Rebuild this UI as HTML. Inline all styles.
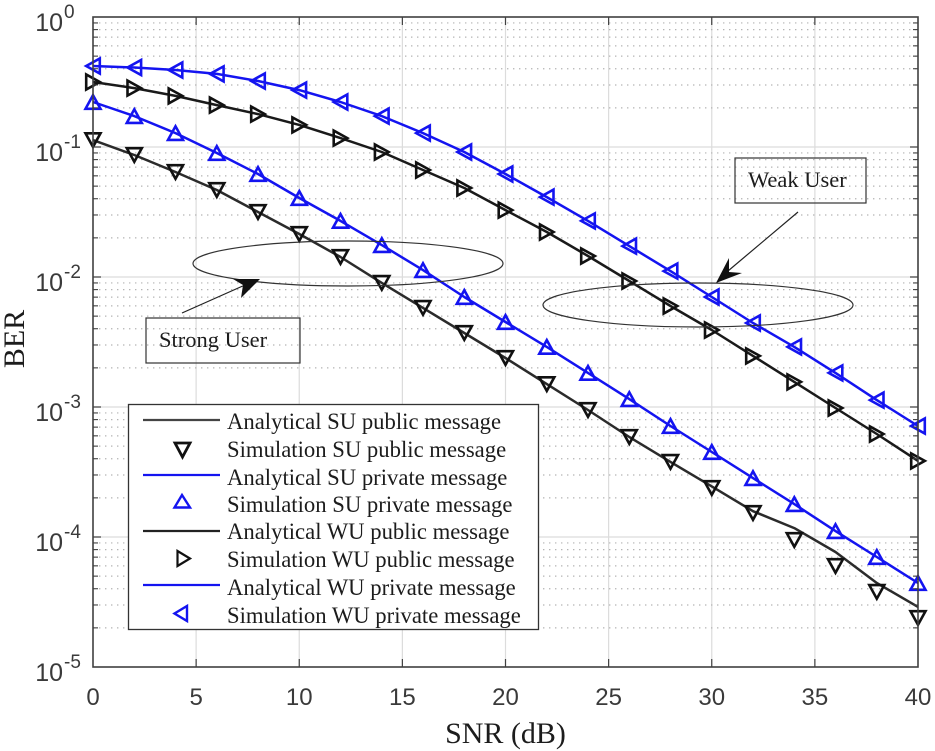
<!DOCTYPE html>
<html lang="en">
<head>
<meta charset="utf-8">
<title>BER vs SNR</title>
<style>
html,body{margin:0;padding:0;background:#fff;width:935px;height:751px;overflow:hidden}
svg{display:block;filter:blur(0.35px)}
.tick{font-family:"Liberation Sans",sans-serif;fill:#3a3a3a}
.serif{font-family:"Liberation Serif",serif;fill:#1c1c1c}
</style>
</head>
<body>
<svg id="chart" width="935" height="751" viewBox="0 0 935 751" xmlns="http://www.w3.org/2000/svg">
  <rect x="0" y="0" width="935" height="751" fill="#fff"/>
  <g id="grid"></g>
  <g id="series"></g>
  <g id="axes"></g>

  <g>
    <ellipse cx="348" cy="263.5" rx="155" ry="22.5" fill="none" stroke="#333" stroke-width="1.2"/>
    <line x1="182" y1="313" x2="245" y2="285" stroke="#222" stroke-width="1.2"/>
    <polygon points="260,279 233,279 243,285 241,298" fill="#111"/>
    <rect x="146" y="318" width="154" height="45" fill="none" stroke="#333" stroke-width="1.2"/>
    <text class="serif" x="159" y="347" font-size="22.5">Strong User</text>
  </g>

  <g>
    <ellipse cx="698" cy="305" rx="155" ry="22" fill="none" stroke="#333" stroke-width="1.2"/>
    <line x1="798" y1="212" x2="728" y2="271" stroke="#222" stroke-width="1.2"/>
    <polygon points="716,283 729,258 729,272 742,273" fill="#111"/>
    <rect x="735" y="158" width="131" height="45" fill="none" stroke="#333" stroke-width="1.2"/>
    <text class="serif" x="748" y="187" font-size="22.5">Weak User</text>
  </g>

  <g>
    <rect x="128.5" y="404.5" width="410" height="225" fill="#fff" stroke="#333" stroke-width="1.3"/>

    <line x1="143" y1="420" x2="220" y2="420" stroke="#444" stroke-width="2.2"/>
    <text class="serif" x="227" y="429" font-size="22.7">Analytical SU public message</text>

    <polygon points="175,443 190,443 182.5,457" fill="none" stroke="#111" stroke-width="2.8"/>
    <text class="serif" x="227" y="457" font-size="22.7">Simulation SU public message</text>

    <line x1="143" y1="475" x2="220" y2="475" stroke="#1414f0" stroke-width="2.2"/>
    <text class="serif" x="227" y="485" font-size="22.7">Analytical SU private message</text>

    <polygon points="174.5,507.5 190,507.5 182,495" fill="none" stroke="#1414f0" stroke-width="2.4"/>
    <text class="serif" x="227" y="512" font-size="22.7">Simulation SU private message</text>

    <line x1="143" y1="531" x2="220" y2="531" stroke="#222" stroke-width="2.2"/>
    <text class="serif" x="227" y="539" font-size="22.7">Analytical WU public message</text>

    <polygon points="177.5,551 177.5,566 190,558.5" fill="none" stroke="#111" stroke-width="2.2"/>
    <text class="serif" x="227" y="567" font-size="22.7">Simulation WU public message</text>

    <line x1="143" y1="585" x2="220" y2="585" stroke="#1414f0" stroke-width="2.2"/>
    <text class="serif" x="227" y="595" font-size="22.7">Analytical WU private message</text>

    <polygon points="187,606 187,621 174.5,613.5" fill="none" stroke="#1414f0" stroke-width="2.4"/>
    <text class="serif" x="227" y="623" font-size="22.7">Simulation WU private message</text>
  </g>

  <text class="serif" x="505.5" y="743" font-size="30" text-anchor="middle">SNR (dB)</text>
  <text class="serif" x="0" y="0" font-size="30" text-anchor="middle" transform="translate(24,339) rotate(-90)">BER</text>
</svg>

<script>
var snrValues = [0,2,4,6,8,10,12,14,16,18,20,22,24,26,28,30,32,34,36,38,40];

var suPublicAnalytical = [0.113,0.0868,0.0642,0.0467,0.0316,0.0214,0.01425,0.0090,0.00578,0.00371,0.00238,0.00150,0.000948,0.000588,0.000378,0.000245,0.000158,0.000117,0.0000767,0.0000443,0.0000290];
var suPublicSimulation = [0.113,0.0868,0.0642,0.0467,0.0316,0.0214,0.01425,0.0090,0.00578,0.00371,0.00238,0.00150,0.000948,0.000588,0.000378,0.000238,0.000153,0.0000948,0.0000598,0.0000378,0.0000238];
var suPrivateAnalytical = [0.222,0.173,0.128,0.0899,0.0620,0.0405,0.0270,0.0176,0.0113,0.00702,0.00451,0.00290,0.00183,0.00115,0.000714,0.000451,0.000284,0.000179,0.000111,0.0000702,0.0000443];
var suPrivateSimulation = [0.222,0.173,0.128,0.0899,0.0620,0.0405,0.0270,0.0176,0.0113,0.00702,0.00451,0.00290,0.00183,0.00115,0.000714,0.000451,0.000284,0.000179,0.000111,0.0000702,0.0000443];
var wuPublicAnalytical = [0.316,0.284,0.247,0.210,0.179,0.148,0.117,0.0916,0.0665,0.0484,0.0327,0.0222,0.0145,0.00931,0.00598,0.00391,0.00247,0.00156,0.000983,0.000620,0.000385];
var wuPublicSimulation = [0.316,0.284,0.247,0.210,0.179,0.148,0.117,0.0916,0.0665,0.0484,0.0327,0.0222,0.0145,0.00931,0.00598,0.00391,0.00247,0.00156,0.000983,0.000620,0.000385];
var wuPrivateAnalytical = [0.420,0.409,0.391,0.365,0.322,0.274,0.222,0.173,0.128,0.0916,0.0620,0.0412,0.0270,0.0173,0.0111,0.00702,0.00443,0.00290,0.00183,0.00113,0.000714];
var wuPrivateSimulation = [0.420,0.409,0.391,0.365,0.322,0.274,0.222,0.173,0.128,0.0916,0.0620,0.0412,0.0270,0.0173,0.0111,0.00702,0.00443,0.00290,0.00183,0.00113,0.000714];

var xTickLabels = [0,5,10,15,20,25,30,35,40];
var yTickExponents = [0,-1,-2,-3,-4,-5];

var SVGNS = 'http://www.w3.org/2000/svg';
var PLOT_LEFT = 93, PLOT_RIGHT = 918, PLOT_TOP = 17, PLOT_BOTTOM = 667;
var X_MIN = 0, X_MAX = 40, LOG_MAX = 0, LOG_MIN = -5;

function xScale(v) { return PLOT_LEFT + (v - X_MIN) * (PLOT_RIGHT - PLOT_LEFT) / (X_MAX - X_MIN); }
function yScale(v) { return PLOT_TOP + (LOG_MAX - Math.log10(v)) * (PLOT_BOTTOM - PLOT_TOP) / (LOG_MAX - LOG_MIN); }

function make(tag, parent, attrs) {
  var el = document.createElementNS(SVGNS, tag);
  for (var k in attrs) { el.setAttribute(k, attrs[k]); }
  parent.appendChild(el);
  return el;
}

var gridGroup = document.getElementById('grid');
var axesGroup = document.getElementById('axes');
var seriesGroup = document.getElementById('series');

var AXIS_COLOR = '#404040';

function segment(parent, x1, y1, x2, y2, stroke, width, dash) {
  var attrs = { x1: x1, y1: y1, x2: x2, y2: y2, stroke: stroke, 'stroke-width': width };
  if (dash) { attrs['stroke-dasharray'] = dash; }
  return make('line', parent, attrs);
}

xTickLabels.forEach(function (t) {
  var px = xScale(t);
  if (t !== X_MIN && t !== X_MAX) {
    var g = segment(gridGroup, px, PLOT_TOP, px, PLOT_BOTTOM, '#dcdcdc', 1.2);
    
    
    var tb = segment(axesGroup, px, PLOT_BOTTOM, px, PLOT_BOTTOM - 8, AXIS_COLOR, 1.2);
    
    
    var tt = segment(axesGroup, px, PLOT_TOP, px, PLOT_TOP + 8, AXIS_COLOR, 1.2);
    
    
  }
  var lab = make('text', axesGroup, { x: px, y: 705, 'font-size': 24, 'text-anchor': 'middle', 'class': 'tick' });
  
  
  lab.textContent = String(t);
});

yTickExponents.forEach(function (e) {
  var py = yScale(Math.pow(10, e));
  if (e !== LOG_MAX && e !== LOG_MIN) {
    var g = segment(gridGroup, PLOT_LEFT, py, PLOT_RIGHT, py, '#dcdcdc', 1.2);
    
    
    var tl = segment(axesGroup, PLOT_LEFT, py, PLOT_LEFT + 8, py, AXIS_COLOR, 1.2);
    
    
    var tr = segment(axesGroup, PLOT_RIGHT, py, PLOT_RIGHT - 8, py, AXIS_COLOR, 1.2);
    
    
  }
  if (e !== LOG_MIN) {
    for (var m = 2; m <= 9; m++) {
      var my = yScale(m * Math.pow(10, e - 1));
      var dots = segment(gridGroup, PLOT_LEFT, my, PLOT_RIGHT, my, '#b4b4b4', 1.2, '1.4 4.6');
      
      
      var ml = segment(axesGroup, PLOT_LEFT, my, PLOT_LEFT + 5, my, AXIS_COLOR, 1.1);
      
      
      var mr = segment(axesGroup, PLOT_RIGHT, my, PLOT_RIGHT - 5, my, AXIS_COLOR, 1.1);
      
      
    }
  }
  var base = make('text', axesGroup, { x: 63, y: py + 14, 'font-size': 25, 'text-anchor': 'end', 'class': 'tick' });
  
  
  base.textContent = '10';
  var sup = make('text', axesGroup, { x: 64, y: py + 1, 'font-size': 19, 'class': 'tick' });
  
  
  sup.textContent = String(e);
});

var axisBox = make('rect', axesGroup, {
  x: PLOT_LEFT, y: PLOT_TOP, width: PLOT_RIGHT - PLOT_LEFT, height: PLOT_BOTTOM - PLOT_TOP,
  fill: 'none', stroke: AXIS_COLOR, 'stroke-width': 1.6
});



var BLACK = '#1a1a1a', BLUE = '#1414f0';

function markerPoints(shape, cx, cy) {
  var w = 7.5, h = 6.8;
  var p;
  if (shape === 'down') { p = [[-w, -h], [w, -h], [0, h]]; }
  if (shape === 'up') { p = [[-w, h], [w, h], [0, -h]]; }
  if (shape === 'right') { p = [[-h, -w], [-h, w], [h, 0]]; }
  if (shape === 'left') { p = [[h, -w], [h, w], [-h, 0]]; }
  return p.map(function (q) { return (cx + q[0]).toFixed(1) + ',' + (cy + q[1]).toFixed(1); }).join(' ');
}

function drawLine(values, color, name) {
  var pts = values.map(function (v, i) { return xScale(snrValues[i]).toFixed(1) + ',' + yScale(v).toFixed(1); }).join(' ');
  var line = make('polyline', seriesGroup, { points: pts, fill: 'none', stroke: color, 'stroke-width': 2.5, 'stroke-linejoin': 'round' });
  
  
}

function drawMarkers(values, color, shape, name) {
  values.forEach(function (v, i) {
    var poly = make('polygon', seriesGroup, {
      points: markerPoints(shape, xScale(snrValues[i]), yScale(v)),
      fill: 'none', stroke: color, 'stroke-width': 2.6
    });
    
    
  });
}

drawLine(suPublicAnalytical, '#2b2b2b', 'line-analytical-su-public');
drawMarkers(suPublicSimulation, '#111', 'down', 'marker-simulation-su-public');
drawLine(suPrivateAnalytical, BLUE, 'line-analytical-su-private');
drawMarkers(suPrivateSimulation, BLUE, 'up', 'marker-simulation-su-private');
drawLine(wuPublicAnalytical, BLACK, 'line-analytical-wu-public');
drawMarkers(wuPublicSimulation, '#111', 'right', 'marker-simulation-wu-public');
drawLine(wuPrivateAnalytical, BLUE, 'line-analytical-wu-private');
drawMarkers(wuPrivateSimulation, BLUE, 'left', 'marker-simulation-wu-private');
</script>
</body>
</html>
